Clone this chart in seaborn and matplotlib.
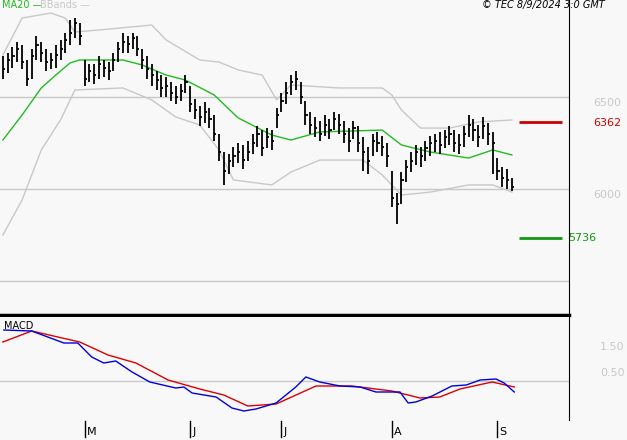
import numpy as np
import pandas as pd
import matplotlib
matplotlib.use("Agg")
import matplotlib.pyplot as plt
import seaborn as sns

closes = [6650,6700,6720,6760,6690,6600,6720,6780,6740,6690,
          6700,6730,6760,6810,6850,6900,6830,6600,6640,6620,
          6680,6660,6640,6700,6760,6800,6790,6820,6760,6700,
          6650,6620,6590,6550,6560,6520,6500,6530,6580,6460,
          6430,6390,6420,6380,6300,6200,6100,6150,6180,6200,
          6160,6200,6250,6300,6220,6280,6260,6400,6480,6520,
          6580,6600,6500,6400,6350,6330,6300,6350,6320,6380,
          6350,6300,6260,6330,6250,6200,6150,6260,6250,6230,
          6180,5950,5920,6050,6120,6150,6200,6180,6220,6250,
          6260,6240,6280,6300,6250,6240,6300,6350,6320,6280,
          6340,6300,6250,6100,6060,6050,6010]
highs = [6720,6740,6770,6800,6780,6700,6760,6830,6800,6760,
         6740,6780,6810,6850,6920,6930,6900,6700,6680,6680,
         6720,6700,6690,6740,6800,6850,6830,6850,6830,6760,
         6720,6680,6640,6620,6610,6580,6560,6570,6620,6560,
         6490,6450,6470,6440,6400,6300,6200,6190,6230,6250,
         6240,6260,6300,6340,6320,6330,6320,6440,6520,6580,
         6620,6640,6580,6480,6420,6390,6370,6400,6380,6420,
         6410,6370,6330,6370,6340,6280,6230,6300,6310,6290,
         6250,6100,5980,6090,6160,6200,6240,6230,6260,6290,
         6300,6310,6320,6340,6320,6300,6340,6400,6380,6350,
         6390,6360,6310,6170,6120,6110,6060]
lows = [6600,6630,6660,6690,6650,6560,6600,6700,6690,6640,
        6650,6660,6700,6740,6780,6820,6780,6560,6580,6570,
        6600,6610,6590,6640,6690,6740,6740,6760,6720,6650,
        6600,6560,6540,6500,6500,6480,6460,6480,6520,6420,
        6380,6340,6360,6330,6260,6150,6020,6080,6120,6140,
        6110,6150,6190,6230,6180,6220,6210,6330,6420,6460,
        6510,6540,6460,6350,6300,6280,6260,6290,6270,6320,
        6300,6250,6200,6270,6200,6100,6080,6180,6200,6180,
        6120,5900,5810,5920,6040,6090,6130,6120,6150,6180,
        6200,6190,6220,6240,6200,6190,6230,6280,6260,6230,
        6270,6240,6080,6050,6010,6000,5990]

ma_idx = [0,4,8,11,14,16,25,29,34,38,44,49,56,60,66,79,83,89,97,102,106]
ma20 = [6266,6402,6549,6619,6685,6701,6701,6674,6619,6592,6511,6386,6293,6266,6310,6320,6239,6201,6168,6212,6185]
up_idx = [0,4,10,13,15,20,31,34,41,45,49,54,57,60,70,79,81,83,87,93,99,106]
upper = [6728,6929,6956,6929,6853,6864,6891,6810,6701,6690,6647,6619,6484,6565,6549,6549,6511,6429,6331,6331,6364,6375]
lo_idx = [0,4,8,12,15,25,31,36,41,45,48,56,60,66,75,79,83,89,97,102,106]
lower = [5750,5940,6212,6375,6538,6549,6484,6391,6348,6212,6049,6022,6092,6157,6157,6076,5967,5983,6022,6022,5983]

macd_idx = [0.2,6,12.7,15.6,18.5,21,23.5,26.9,30.6,36,37.7,39.4,44.4,47.7,50.2,52.7,56.9,61,63.1,66,70.2,74.4,77.7,82.7,84.4,86,89.4,93.5,96.5,99.4,102.7,104.4,106.5]
macd = [2.04,2.0,1.52,1.52,0.96,0.72,0.8,0.36,-0.04,-0.28,-0.24,-0.48,-0.64,-1.08,-1.2,-1.12,-0.88,-0.24,0.16,-0.04,-0.2,-0.24,-0.44,-0.44,-0.88,-0.84,-0.6,-0.2,-0.16,0.04,0.08,-0.08,-0.44]
sig_idx = [0,6,16,21.9,27.7,34.4,41,46,51,56.9,65.2,72.7,81,86.9,91,95.2,101.9,106.5]
signal = [1.56,2.0,1.56,1.04,0.72,0.04,-0.32,-0.56,-1.0,-0.92,-0.2,-0.2,-0.4,-0.68,-0.64,-0.32,-0.04,-0.24]

month_pos = [17, 39, 58, 81, 103]
month_labels = ["M", "J", "J", "A", "S"]
resistance = 6362
support = 5736

bg = "#f8f8f8"
fig = plt.figure(figsize=(6.27, 4.40), dpi=100, facecolor=bg)
W, H = 627, 440
ax = fig.add_axes([0, 125/H, 569/W, 1 - 125/H], facecolor=bg)
ax2 = fig.add_axes([0, 20/H, 569/W, 103/H], facecolor=bg)
xl = (-0.6, 117.9)

for a in (ax, ax2):
    a.set_xlim(*xl)
    for s in ["top", "left"]:
        a.spines[s].set_visible(False)
    a.spines["right"].set_color("black")
    a.set_xticks([]); a.set_yticks([])
ax.spines["bottom"].set_linewidth(2.5)
ax.spines["bottom"].set_color("black")
ax2.spines["bottom"].set_visible(False)

ax.set_ylim(5315, 7027)
for g in (5500, 6000, 6500):
    ax.axhline(g, color="#c8c8c8", lw=1, zorder=0)

sns.lineplot(x=up_idx, y=upper, ax=ax, color="#c8c8c8", lw=1)
sns.lineplot(x=lo_idx, y=lower, ax=ax, color="#c8c8c8", lw=1)
sns.lineplot(x=ma_idx, y=ma20, ax=ax, color="#22bb22", lw=1)

idx = np.arange(len(closes))
ax.vlines(idx, lows, highs, color="black", lw=1.3)
ax.hlines(closes, idx, idx + 0.45, color="black", lw=1.3)

ax.hlines(resistance, 107.5, 116.5, color="#cc0000", lw=2)
ax.hlines(support, 107.5, 116.5, color="#119911", lw=2)

fig.text(593/W, 1 - 103/H, "6500", color="#c8c8c8", fontsize=8, va="center")
fig.text(593/W, 1 - 195/H, "6000", color="#c8c8c8", fontsize=8, va="center")
fig.text(593/W, 1 - 123/H, "6362", color="#cc0000", fontsize=8, va="center")
fig.text(568/W, 1 - 238/H, "5736", color="#119911", fontsize=8, va="center")
fig.text(2/W, 1 - 5/H, "MA20 —", color="#22bb22", fontsize=7, va="center")
fig.text(40/W, 1 - 5/H, "BBands —", color="#c8c8c8", fontsize=7, va="center")
fig.text(605/W, 1 - 5/H, "© TEC 8/9/2024 3:0 GMT", color="black", fontsize=7,
         style="italic", va="center", ha="right")

ax2.set_ylim(-1.56, 2.56)
ax2.axhline(0, color="#c8c8c8", lw=1, zorder=0)
sns.lineplot(x=sig_idx, y=signal, ax=ax2, color="#dd0000", lw=1)
sns.lineplot(x=macd_idx, y=macd, ax=ax2, color="#0000dd", lw=1)
ax2.text(0.3, 2.2, "MACD", fontsize=7, va="center")
fig.text(600/W, 1 - 347/H, "1.50", color="#c8c8c8", fontsize=8, va="center")
fig.text(600/W, 1 - 373/H, "0.50", color="#c8c8c8", fontsize=8, va="center")

for p, lab in zip(month_pos, month_labels):
    xf = (p - xl[0]) / (xl[1] - xl[0]) * 569 / W
    fig.add_artist(plt.Line2D([xf, xf], [1 - 421/H, 1 - 437/H], color="black", lw=1))
    fig.text(xf + 2/W, 1 - 432/H, lab, fontsize=8, va="center")

fig.savefig("out.png", dpi=100, facecolor=bg)
